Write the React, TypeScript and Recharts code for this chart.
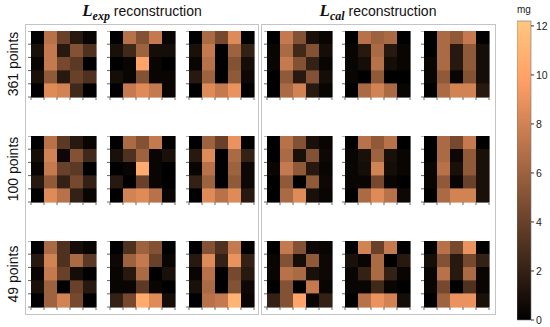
import { ScatterChart, Scatter, XAxis, YAxis, ReferenceArea } from 'recharts'

// colour scale top (mg) and colorbar ticks
const VMAX = 12.2
const colorbarTicks = [0, 2, 4, 6, 8, 10, 12]
const gridTicks = [0, 1, 2, 3, 4, 5]
const rowLabels = ['361 points', '100 points', '49 points']

// L_exp reconstruction, 361 points
const exp361A = [
  [0, 7, 4, 1.5, 0.3],
  [1, 7.5, 1.5, 5, 3],
  [0.3, 7.5, 4.5, 3.5, 0],
  [1, 5.5, 1.5, 4, 3],
  [0, 8.5, 8, 2.5, 0],
]
const exp361B = [
  [0, 7, 5, 7.5, 0.3],
  [1, 2.5, 6, 0.8, 0.8],
  [0, 0.3, 10, 0.3, 0],
  [0.8, 0.3, 5, 0.3, 0.3],
  [0, 7.5, 8.5, 7.5, 0.3],
]
const exp361C = [
  [0, 6.5, 4.5, 8.5, 0],
  [1, 7.5, 0, 6, 2],
  [0.3, 7, 0, 5, 0.8],
  [1.5, 6, 0, 5.5, 0.5],
  [0, 8.5, 7.5, 9, 0],
]
// L_exp reconstruction, 100 points
const exp100A = [
  [0, 7, 3.5, 1.5, 0.3],
  [0.8, 8, 0.5, 5, 2.5],
  [0.3, 7.5, 4, 3.5, 0],
  [1.5, 5.5, 2, 4.5, 2],
  [0, 8.5, 7, 2, 0.3],
]
const exp100B = [
  [0, 6.5, 5, 7.5, 0],
  [1, 3, 6, 0.3, 1],
  [0, 0.3, 10.5, 0.3, 0],
  [1.5, 0, 4, 0.3, 0],
  [0, 8, 8.5, 7, 0.3],
]
const exp100C = [
  [0, 6, 4, 9, 0],
  [1.5, 8.5, 0, 6.5, 2],
  [0.3, 7, 0, 6, 0.5],
  [2, 6, 0, 5.5, 0.5],
  [0, 8.5, 7, 8.5, 1.5],
]
// L_exp reconstruction, 49 points
const exp49A = [
  [0, 6.5, 3, 0.8, 0.3],
  [1.5, 8, 3, 6.5, 3.5],
  [0.3, 7.5, 4, 0.8, 0],
  [1, 6, 0, 4, 1.5],
  [0, 6, 8, 4.5, 0],
]
const exp49B = [
  [0, 3, 6, 5, 0],
  [0.5, 6, 7.5, 4, 0.3],
  [0.3, 1.5, 6.5, 0, 1],
  [0.3, 0.3, 3.5, 0.3, 0],
  [2, 4.5, 10.5, 8.5, 0.8],
]
const exp49C = [
  [0, 5, 3, 7.5, 0],
  [1.5, 8.5, 2, 9, 2],
  [0.3, 7, 0, 4.5, 1.5],
  [1, 6.5, 0, 5, 0.5],
  [0, 7, 7.5, 11, 0.3],
]

// L_cal reconstruction, 361 points
const cal361A = [
  [0, 7.5, 5, 1, 0.3],
  [0.3, 6.5, 2.5, 5, 0.8],
  [0.3, 7.5, 5, 2, 0.3],
  [0, 5.5, 1.5, 5, 0.8],
  [0, 6.5, 8, 1.5, 0.3],
]
const cal361B = [
  [0, 7, 6, 6.5, 0],
  [0.3, 1.5, 6.5, 1.5, 0.3],
  [0.3, 0.8, 7, 0.8, 0.3],
  [0.3, 0, 5.5, 0, 0],
  [0, 6.5, 8, 6.5, 0.3],
]
const cal361C = [
  [0, 6.5, 5.5, 7.5, 0],
  [0, 6.5, 1.5, 5.5, 0.8],
  [0.3, 6.5, 1.5, 5.5, 0.8],
  [0.3, 5.5, 0.3, 5, 0.8],
  [0, 6.5, 8, 8, 1.5],
]
// L_cal reconstruction, 100 points
const cal100A = [
  [0, 7, 5, 1, 0.3],
  [0, 6.5, 1, 5, 0.5],
  [0.3, 7.5, 5.5, 1.5, 0.3],
  [0, 5.5, 0, 5.5, 0.5],
  [0, 6.5, 8.5, 1, 0.3],
]
const cal100B = [
  [0, 7, 5.5, 7, 0],
  [0.3, 1, 6, 1, 0.3],
  [0.3, 0.8, 8, 0.8, 0.3],
  [0.3, 0.3, 4.5, 0.3, 0],
  [0, 6.5, 8.5, 7, 0.5],
]
const cal100C = [
  [0, 6.5, 4.5, 7.5, 0],
  [0, 6.5, 0.5, 5.5, 1],
  [0.3, 7, 1, 5.5, 1],
  [0.3, 5.5, 0.3, 4, 1],
  [0, 6.5, 8, 8, 1],
]
// L_cal reconstruction, 49 points
const cal49A = [
  [0, 7.5, 5, 0.5, 0.3],
  [0.3, 5, 0.8, 5.5, 0.5],
  [0.3, 7, 6.5, 1, 0.5],
  [0, 5, 0, 7.5, 0.3],
  [2, 5, 10, 0.3, 2],
]
const cal49B = [
  [0, 8, 4, 7.5, 0],
  [1, 0.3, 6.5, 0, 1.5],
  [0.3, 2, 6.5, 2, 0.3],
  [0.3, 0.3, 2.5, 0.3, 0],
  [0, 7, 9, 8, 0.8],
]
const cal49C = [
  [0, 7, 4.5, 9, 0],
  [0.8, 5, 1.5, 4.5, 2],
  [0.3, 7, 1.5, 6.5, 0.3],
  [0.3, 4.5, 0, 3, 0.3],
  [0, 6, 9, 9, 1],
]

const expGrid = [
  [exp361A, exp361B, exp361C],
  [exp100A, exp100B, exp100C],
  [exp49A, exp49B, exp49C],
]
const calGrid = [
  [cal361A, cal361B, cal361C],
  [cal100A, cal100B, cal100C],
  [cal49A, cal49B, cal49C],
]

// matplotlib "copper"
const copper = (v: number) => {
  const t = Math.max(0, Math.min(1, v / VMAX))
  const r = Math.round(Math.min(1, 1.25 * t) * 255)
  const g = Math.round(0.7812 * t * 255)
  const b = Math.round(0.4975 * t * 255)
  return `rgb(${r},${g},${b})`
}

const font = '"Liberation Sans", Arial, sans-serif'
const leftCols = [26.5, 105.5, 184.5]
const rightCols = [262.5, 341, 419.5]
const rowTops = [31, 136, 241]

function Heatmap({ values, left, top }: { values: number[][]; left: number; top: number }) {
  const cells = values.flatMap((row, r) => row.map((v, c) => ({ r, c, v, x: c + 0.5, y: r + 0.5 })))
  return (
    <div style={{ position: 'absolute', left, top }}>
      <ScatterChart width={70} height={70} margin={{ top: 0, right: 1, bottom: 0, left: 0 }}>
        <XAxis
          type="number"
          dataKey="x"
          domain={[0, 5]}
          ticks={gridTicks}
          height={4}
          tickSize={3}
          axisLine={false}
          tickLine={{ stroke: '#666' }}
          tickFormatter={() => ''}
        />
        <YAxis
          type="number"
          dataKey="y"
          domain={[0, 5]}
          reversed
          ticks={gridTicks}
          width={4}
          tickSize={3}
          axisLine={false}
          tickLine={{ stroke: '#666' }}
          tickFormatter={() => ''}
        />
        {cells.map((cell) => (
          <ReferenceArea
            key={`${cell.r}-${cell.c}`}
            x1={cell.c}
            x2={cell.c + 1}
            y1={cell.r}
            y2={cell.r + 1}
            fill={copper(cell.v)}
            fillOpacity={1}
            stroke={copper(cell.v)}
            strokeWidth={0.6}
            shapeRendering="crispEdges"
          />
        ))}
        <Scatter data={cells} fill="none" stroke="none" isAnimationActive={false} />
      </ScatterChart>
    </div>
  )
}

function Title({ sub, center }: { sub: string; center: number }) {
  return (
    <div
      style={{
        position: 'absolute',
        top: 1,
        left: center - 100,
        width: 200,
        textAlign: 'center',
        whiteSpace: 'nowrap',
        color: '#111',
      }}
    >
      <span style={{ fontFamily: '"Liberation Serif", serif', fontWeight: 'bold', fontStyle: 'italic', fontSize: 17 }}>
        L
        <sub style={{ fontSize: 12 }}>{sub}</sub>
      </span>
      <span style={{ fontFamily: font, fontSize: 14 }}> reconstruction</span>
    </div>
  )
}

function Colorbar() {
  return (
    <div style={{ position: 'absolute', left: 517, top: 15 }}>
      <ScatterChart width={42} height={311} margin={{ top: 6, right: 4, bottom: 6, left: 0 }}>
        <defs>
          <linearGradient id="copperGrad" x1="0" y1="1" x2="0" y2="0">
            <stop offset="0" stopColor="rgb(0,0,0)" />
            <stop offset="0.8" stopColor="rgb(255,159,102)" />
            <stop offset="1" stopColor="rgb(255,199,127)" />
          </linearGradient>
        </defs>
        <XAxis type="number" dataKey="x" domain={[0, 1]} hide />
        <YAxis
          type="number"
          dataKey="y"
          orientation="right"
          domain={[0, VMAX]}
          ticks={colorbarTicks}
          width={24}
          tickSize={3}
          axisLine={false}
          tickLine={{ stroke: '#333' }}
          tick={{ fontSize: 10.5, fill: '#222', fontFamily: font }}
        />
        <ReferenceArea x1={0} x2={1} y1={0} y2={VMAX} fill="url(#copperGrad)" fillOpacity={1} stroke="#777" strokeWidth={0.6} />
        <Scatter data={[{ x: 0.5, y: 0 }]} fill="none" stroke="none" isAnimationActive={false} />
      </ScatterChart>
    </div>
  )
}

export default function App() {
  return (
    <div style={{ position: 'absolute', left: 0, top: 0, width: 550, height: 327, background: '#fff', overflow: 'hidden' }}>
      <Title sub="exp" center={142} />
      <Title sub="cal" center={378} />
      <div style={{ position: 'absolute', left: 25, top: 24, width: 232, height: 289, border: '1px solid #c4c4c4' }} />
      <div style={{ position: 'absolute', left: 261, top: 24, width: 233, height: 289, border: '1px solid #c4c4c4' }} />
      {rowLabels.map((label, i) => (
        <div
          key={label}
          style={{
            position: 'absolute',
            left: 13 - 50,
            top: rowTops[i] + 33 - 8,
            width: 100,
            height: 16,
            lineHeight: '16px',
            textAlign: 'center',
            transform: 'rotate(-90deg)',
            fontFamily: font,
            fontSize: 14,
            color: '#111',
          }}
        >
          {label}
        </div>
      ))}
      {expGrid.map((row, i) =>
        row.map((vals, j) => <Heatmap key={`e${i}${j}`} values={vals} left={leftCols[j]} top={rowTops[i]} />)
      )}
      {calGrid.map((row, i) =>
        row.map((vals, j) => <Heatmap key={`c${i}${j}`} values={vals} left={rightCols[j]} top={rowTops[i]} />)
      )}
      <div style={{ position: 'absolute', left: 517, top: 4, fontFamily: font, fontSize: 10, color: '#222' }}>mg</div>
      <Colorbar />
    </div>
  )
}
